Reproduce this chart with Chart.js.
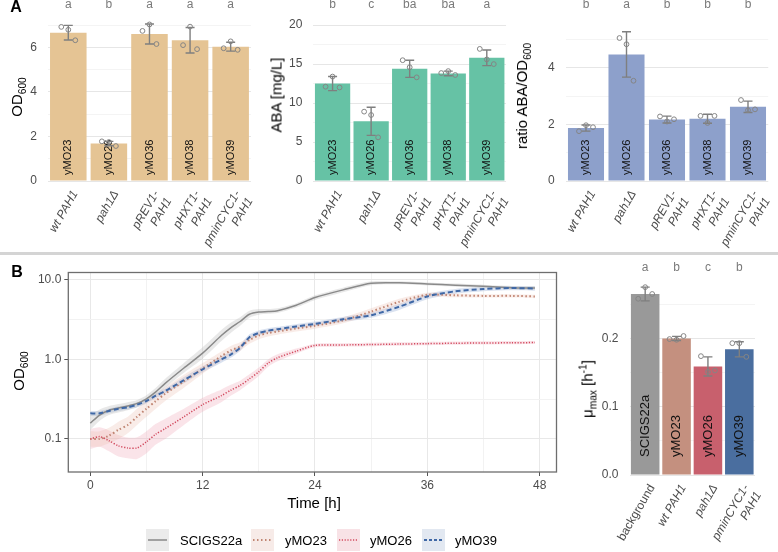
<!DOCTYPE html>
<html>
<head>
<meta charset="utf-8">
<script src="https://cdn.jsdelivr.net/npm/chart.js@4.4.1/dist/chart.umd.min.js"></script>
<style>
  body { margin: 0; background: #fff; font-family: 'Liberation Sans', Arial, sans-serif; }
  #wrap { position: relative; width: 778px; height: 552px; overflow: hidden; }
  canvas { position: absolute; }
  .ttl { position: absolute; white-space: nowrap; transform: translate(-50%, -50%) rotate(-90deg); font-size: 15px; color: #000; }
  .ttl sub, .ttl sup { font-size: 0.68em; }
  .plain { position: absolute; white-space: nowrap; transform: translate(-50%, -50%); font-size: 15px; color: #000; }
  .panel { position: absolute; font-weight: bold; font-size: 16px; transform: translate(-50%, -50%); }
  .legtxt { position: absolute; font-size: 13px; transform: translateY(-50%); white-space: nowrap; }
  .key { position: absolute; }
</style>
</head>
<body>
<div id="wrap">
  <canvas id="odChart" width="255" height="252" style="left:0;top:0"></canvas>
  <canvas id="abaChart" width="256" height="252" style="left:255px;top:0"></canvas>
  <canvas id="ratioChart" width="267" height="252" style="left:511px;top:0"></canvas>
  <canvas id="growthChart" width="565" height="240" style="left:0;top:262px"></canvas>
  <canvas id="muChart" width="208" height="294" style="left:570px;top:258px"></canvas>

  <div style="position:absolute;left:0;top:252px;width:778px;height:3px;background:#d4d4d4"></div>
  <div class="panel" style="left:16px;top:7px">A</div>
  <div class="panel" style="left:17px;top:272px">B</div>

  <div class="ttl" style="left:18px;top:97px">OD<sub>600</sub></div>
  <div class="ttl" style="left:276px;top:95px">ABA [mg/L]</div>
  <div class="ttl" style="left:523px;top:96px">ratio ABA/OD<sub>600</sub></div>
  <div class="ttl" style="left:20px;top:371px">OD<sub>600</sub></div>
  <div class="ttl" style="left:588px;top:389px">μ<sub>max</sub> [h<sup>-1</sup>]</div>
  <div class="plain" style="left:314px;top:502px">Time [h]</div>

  <svg class="key" style="left:146px;top:529px" width="23" height="22"><rect width="23" height="22" fill="#ebebeb"/><line x1="2" y1="11" x2="21" y2="11" stroke="#888" stroke-width="1.5"/></svg>
  <div class="legtxt" style="left:180px;top:540px">SCIGS22a</div>
  <svg class="key" style="left:251px;top:529px" width="23" height="22"><rect width="23" height="22" fill="#f7ebe8"/><line x1="2" y1="11" x2="21" y2="11" stroke="#c08572" stroke-width="2" stroke-dasharray="1.5,2.5"/></svg>
  <div class="legtxt" style="left:285px;top:540px">yMO23</div>
  <svg class="key" style="left:337px;top:529px" width="23" height="22"><rect width="23" height="22" fill="#f8e2e6"/><line x1="2" y1="11" x2="21" y2="11" stroke="#d2495e" stroke-width="1.5" stroke-dasharray="1.2,1.6"/></svg>
  <div class="legtxt" style="left:370px;top:540px">yMO26</div>
  <svg class="key" style="left:422px;top:529px" width="23" height="22"><rect width="23" height="22" fill="#e2e8f1"/><line x1="2" y1="11" x2="21" y2="11" stroke="#3f68a6" stroke-width="1.8" stroke-dasharray="3,2"/></svg>
  <div class="legtxt" style="left:455px;top:540px">yMO39</div>
</div>

<script>
const F = "'Liberation Sans', Arial, sans-serif";

// ---- panel A ----
const strainsA = ['yMO23', 'yMO26', 'yMO36', 'yMO38', 'yMO39'];
const genotypesA = ['wt PAH1', 'pah1Δ', ['pREV1-', 'PAH1'], ['pHXT1-', 'PAH1'], ['pminCYC1-', 'PAH1']];

const odMean = [6.66, 1.68, 6.6, 6.32, 6.03];
const odSd = [0.33, 0.1, 0.45, 0.57, 0.2];
const odPoints = [[6.92, 6.79, 6.32], [1.78, 1.75, 1.57], [6.74, 7.03, 6.15], [6.1, 6.93, 5.92], [5.96, 6.27, 5.89]];
const odLetters = ['a', 'b', 'a', 'a', 'a'];
const odTicks = [0, 2, 4, 6];

const abaMean = [12.5, 7.66, 14.4, 13.8, 15.8];
const abaSd = [0.9, 1.8, 1.1, 0.3, 1.0];
const abaPoints = [[12.1, 13.4, 12.0], [8.9, 8.47, 5.6], [15.5, 14.6, 13.3], [13.85, 14.1, 13.6], [16.95, 15.6, 15.0]];
const abaLetters = ['b', 'c', 'ba', 'ba', 'a'];
const abaTicks = [0, 5, 10, 15, 20];

const ratioMean = [1.87, 4.47, 2.17, 2.2, 2.62];
const ratioSd = [0.11, 0.8, 0.12, 0.16, 0.2];
const ratioPoints = [[1.76, 1.97, 1.9], [5.05, 4.83, 3.54], [2.28, 2.1, 2.18], [2.3, 2.05, 2.3], [2.86, 2.5, 2.53]];
const ratioLetters = ['b', 'a', 'b', 'b', 'b'];
const ratioTicks = [0, 2, 4];

// ---- panel B, growth rate ----
const strainsB = ['SCIGS22a', 'yMO23', 'yMO26', 'yMO39'];
const genotypesB = ['background', 'wt PAH1', 'pah1Δ', ['pminCYC1-', 'PAH1']];
const muMean = [0.265, 0.2, 0.159, 0.184];
const muSd = [0.01, 0.003, 0.014, 0.011];
const muPoints = [[0.258, 0.275, 0.265], [0.199, 0.198, 0.2035], [0.174, 0.151, 0.153], [0.193, 0.193, 0.173]];
const muLetters = ['a', 'b', 'c', 'b'];
const muTicks = [0, 0.1, 0.2];

// ---- panel B, growth curves ----
const hours = [0, 1, 2, 3, 4, 5, 6, 7, 8, 10, 12, 14, 15, 16, 17, 18, 19, 20, 22, 24, 27, 30, 33, 36, 39, 42, 45, 47.5];
const scigsOd = [0.158, 0.2, 0.23, 0.245, 0.26, 0.28, 0.32, 0.39, 0.5, 0.78, 1.2, 2.0, 2.5, 3.0, 3.7, 3.95, 4.0, 4.1, 4.8, 6.0, 7.5, 9.1, 9.2, 8.9, 8.6, 8.3, 8.0, 7.9];
const scigsLo = [0.13, 0.17, 0.2, 0.215, 0.23, 0.25, 0.29, 0.35, 0.44, 0.68, 1.02, 1.7, 2.15, 2.65, 3.35, 3.65, 3.75, 3.85, 4.5, 5.6, 7.0, 8.6, 8.8, 8.5, 8.2, 7.9, 7.6, 7.5];
const scigsHi = [0.2, 0.235, 0.26, 0.275, 0.29, 0.31, 0.355, 0.44, 0.57, 0.9, 1.42, 2.35, 2.9, 3.4, 4.1, 4.3, 4.3, 4.4, 5.1, 6.4, 8.0, 9.6, 9.6, 9.3, 9.0, 8.7, 8.4, 8.3];
const mo23Od = [0.1, 0.1, 0.11, 0.13, 0.15, 0.19, 0.24, 0.3, 0.37, 0.53, 0.77, 1.1, 1.3, 1.45, 1.75, 2.0, 2.15, 2.25, 2.45, 2.65, 3.1, 4.0, 5.3, 6.5, 6.4, 6.3, 6.3, 6.2];
const mo23Lo = [0.08, 0.08, 0.088, 0.1, 0.118, 0.15, 0.19, 0.24, 0.3, 0.44, 0.66, 0.96, 1.14, 1.28, 1.57, 1.8, 1.95, 2.05, 2.24, 2.43, 2.85, 3.65, 4.85, 6.1, 6.05, 6.0, 6.0, 5.9];
const mo23Hi = [0.125, 0.125, 0.138, 0.165, 0.19, 0.24, 0.3, 0.37, 0.45, 0.64, 0.9, 1.26, 1.48, 1.64, 1.95, 2.22, 2.37, 2.47, 2.68, 2.9, 3.38, 4.4, 5.8, 6.9, 6.75, 6.6, 6.6, 6.5];
const mo26Od = [0.1, 0.107, 0.095, 0.082, 0.077, 0.077, 0.092, 0.115, 0.135, 0.19, 0.27, 0.35, 0.41, 0.47, 0.57, 0.7, 0.9, 1.05, 1.27, 1.5, 1.52, 1.54, 1.56, 1.58, 1.6, 1.61, 1.62, 1.63];
const mo26Lo = [0.075, 0.08, 0.07, 0.06, 0.057, 0.056, 0.066, 0.085, 0.1, 0.15, 0.22, 0.29, 0.35, 0.41, 0.5, 0.62, 0.81, 0.95, 1.18, 1.42, 1.45, 1.47, 1.49, 1.51, 1.53, 1.54, 1.55, 1.56];
const mo26Hi = [0.133, 0.14, 0.128, 0.112, 0.104, 0.105, 0.125, 0.155, 0.18, 0.24, 0.33, 0.42, 0.48, 0.54, 0.65, 0.79, 1.0, 1.16, 1.37, 1.58, 1.6, 1.62, 1.64, 1.66, 1.68, 1.69, 1.7, 1.71];
const mo39Od = [0.21, 0.21, 0.225, 0.24, 0.25, 0.27, 0.3, 0.35, 0.4, 0.55, 0.75, 1.0, 1.15, 1.4, 1.9, 2.15, 2.3, 2.4, 2.6, 2.8, 3.2, 3.6, 4.6, 6.2, 7.2, 7.7, 7.9, 7.8];
const mo39Lo = [0.195, 0.195, 0.21, 0.225, 0.233, 0.25, 0.28, 0.325, 0.37, 0.5, 0.69, 0.91, 1.05, 1.28, 1.75, 2.0, 2.15, 2.24, 2.43, 2.62, 2.98, 3.35, 4.2, 5.7, 6.7, 7.2, 7.4, 7.3];
const mo39Hi = [0.225, 0.225, 0.24, 0.257, 0.268, 0.29, 0.32, 0.375, 0.43, 0.6, 0.82, 1.1, 1.26, 1.53, 2.07, 2.32, 2.47, 2.57, 2.78, 3.0, 3.43, 3.88, 5.0, 6.7, 7.7, 8.2, 8.4, 8.3];
const timeTicks = [0, 12, 24, 36, 48];
const odLogTicks = [0.1, 1, 10];

const jitterPx = [-7, 0, 7];

// error bars, replicate points, letters and strain names inside bars
function barExtras(o) {
  return {
    id: 'extras',
    afterDatasetsDraw(chart) {
      const ctx = chart.ctx, ys = chart.scales.y;
      const meta = chart.getDatasetMeta(0);
      meta.data.forEach((bar, i) => {
        const x = bar.x;
        ctx.save();
        ctx.translate(x, ys.getPixelForValue(0) - o.labelLift);
        ctx.rotate(-Math.PI / 2);
        ctx.fillStyle = '#111';
        ctx.font = o.labelSize + 'px ' + F;
        ctx.textAlign = 'left';
        ctx.textBaseline = 'middle';
        ctx.fillText(o.strains[i], 0, 0);
        ctx.restore();

        const yH = ys.getPixelForValue(o.mean[i] + o.sd[i]);
        const yL = ys.getPixelForValue(o.mean[i] - o.sd[i]);
        ctx.save();
        ctx.strokeStyle = '#7f7f7f';
        ctx.lineWidth = 1.4;
        ctx.beginPath();
        ctx.moveTo(x, yH); ctx.lineTo(x, yL);
        ctx.moveTo(x - 4.5, yH); ctx.lineTo(x + 4.5, yH);
        ctx.moveTo(x - 4.5, yL); ctx.lineTo(x + 4.5, yL);
        ctx.stroke();
        ctx.lineWidth = 1;
        ctx.strokeStyle = '#858585';
        o.points[i].forEach((v, j) => {
          ctx.beginPath();
          ctx.arc(x + jitterPx[j], ys.getPixelForValue(v), 2.4, 0, Math.PI * 2);
          ctx.stroke();
        });
        ctx.fillStyle = '#7a7a7a';
        ctx.font = '12px ' + F;
        ctx.textAlign = 'center';
        ctx.textBaseline = 'middle';
        ctx.fillText(o.letters[i], x, o.letterY);
        ctx.restore();
      });
    }
  };
}

function barChart(id, o) {
  const step = o.ticks[1] - o.ticks[0];
  const minor = o.ticks.map(v => v + step / 2).filter(v => v <= o.max);
  const grid = o.ticks.concat(minor).sort((a, b) => a - b);
  return new Chart(document.getElementById(id), {
    type: 'bar',
    data: {
      labels: o.labels,
      datasets: [{
        data: o.mean,
        backgroundColor: o.colors,
        borderWidth: 0,
        barPercentage: o.barPct,
        categoryPercentage: 1
      }]
    },
    options: {
      responsive: false,
      animation: false,
      events: [],
      layout: { padding: { left: 0, right: o.padRight, top: o.padTop, bottom: 0 } },
      plugins: { legend: { display: false }, tooltip: { enabled: false } },
      scales: {
        x: {
          grid: { display: false },
          border: { display: false },
          ticks: {
            color: '#4d4d4d',
            font: ctx => ({ size: 12, family: F, style: (o.plainFirst && ctx.index === 0) ? 'normal' : 'italic' }),
            minRotation: 60,
            maxRotation: 60,
            autoSkip: false,
            labelOffset: 7,
            padding: -1
          },
          afterFit: s => { s.height = o.xH; }
        },
        y: {
          min: 0,
          max: o.max,
          border: { display: false },
          grid: {
            drawTicks: false,
            color: c => o.ticks.includes(c.tick.value) ? '#e6e6e6' : '#f1f1f1',
            lineWidth: c => o.ticks.includes(c.tick.value) ? 1 : 0.8
          },
          ticks: {
            color: '#4d4d4d',
            font: { size: 12, family: F },
            padding: 11,
            callback: v => o.ticks.includes(v) ? (o.digits ? v.toFixed(o.digits) : String(v)) : ''
          },
          afterBuildTicks: s => { s.ticks = grid.map(v => ({ value: v })); },
          afterFit: s => { s.width = o.yW; }
        }
      }
    },
    plugins: [barExtras(o)]
  });
}

barChart('odChart', {
  labels: genotypesA, strains: strainsA, mean: odMean, sd: odSd, points: odPoints, letters: odLetters,
  ticks: odTicks, colors: '#E5C494', max: 7.31, barPct: 0.9, yW: 48, padRight: 4, padTop: 10, xH: 71,
  letterY: 5, labelLift: 6, labelSize: 11
});
barChart('abaChart', {
  labels: genotypesA, strains: strainsA, mean: abaMean, sd: abaSd, points: abaPoints, letters: abaLetters,
  ticks: abaTicks, colors: '#66C2A5', max: 20.89, barPct: 0.915, yW: 58.3, padRight: 2.7, padTop: 10, xH: 71,
  letterY: 5, labelLift: 6, labelSize: 11
});
barChart('ratioChart', {
  labels: genotypesA, strains: strainsA, mean: ratioMean, sd: ratioSd, points: ratioPoints, letters: ratioLetters,
  ticks: ratioTicks, colors: '#8DA0CB', max: 5.75, barPct: 0.89, yW: 54.75, padRight: 9.75, padTop: 10, xH: 71,
  letterY: 5, labelLift: 6, labelSize: 11
});
barChart('muChart', {
  labels: genotypesB, strains: strainsB, mean: muMean, sd: muSd, points: muPoints, letters: muLetters,
  ticks: muTicks, digits: 1, colors: ['#999999', '#C4907F', '#C8606D', '#4A6E9F'], max: 0.2855, barPct: 0.91,
  yW: 59.5, padRight: 23, padTop: 22, xH: 77, letterY: 10, labelLift: 18, labelSize: 13, plainFirst: true
});

// ---- growth curves ----
const xy = arr => hours.map((h, i) => ({ x: h, y: arr[i] }));
const band = (hi, lo, color) => [
  { data: xy(hi), fill: '+1', backgroundColor: color, borderWidth: 0, pointRadius: 0, tension: 0.25, order: 20 },
  { data: xy(lo), fill: false, borderWidth: 0, pointRadius: 0, tension: 0.25, order: 20 }
];
const curve = (arr, color, width, dash, order) => ({
  data: xy(arr), borderColor: color, borderWidth: width, borderDash: dash, borderCapStyle: 'butt',
  pointRadius: 0, fill: false, tension: 0.25, order: order
});

const frame = {
  id: 'frame',
  afterDraw(chart) {
    const a = chart.chartArea, ctx = chart.ctx;
    ctx.save();
    ctx.strokeStyle = '#6e6e6e';
    ctx.lineWidth = 1.3;
    ctx.strokeRect(a.left, a.top, a.right - a.left, a.bottom - a.top);
    ctx.restore();
  }
};

const logGrid = [0.1, 0.3162, 1, 3.162, 10];
const timeGrid = [0, 6, 12, 18, 24, 30, 36, 42, 48];

new Chart(document.getElementById('growthChart'), {
  type: 'line',
  data: {
    datasets: [
      ...band(scigsHi, scigsLo, 'rgba(190,190,190,0.35)'),
      ...band(mo23Hi, mo23Lo, 'rgba(235,185,172,0.28)'),
      ...band(mo26Hi, mo26Lo, 'rgba(240,165,182,0.3)'),
      ...band(mo39Hi, mo39Lo, 'rgba(150,172,212,0.35)'),
      curve(scigsOd, '#8a8a8a', 1.5, [], 4),
      curve(mo23Od, '#c08572', 2, [1.5, 2.5], 3),
      curve(mo26Od, '#d2495e', 1.5, [1.2, 1.6], 2),
      curve(mo39Od, '#3f68a6', 2, [5, 3], 1)
    ]
  },
  options: {
    responsive: false,
    animation: false,
    events: [],
    layout: { padding: { left: 0, right: 8.5, top: 10.5, bottom: 0 } },
    plugins: { legend: { display: false }, tooltip: { enabled: false } },
    scales: {
      x: {
        type: 'linear',
        min: -2.35,
        max: 49.8,
        border: { display: false },
        grid: {
          color: c => timeTicks.includes(c.tick.value) ? '#e8e8e8' : '#f2f2f2',
          tickColor: c => timeTicks.includes(c.tick.value) ? '#555' : 'rgba(0,0,0,0)',
          tickLength: 4
        },
        ticks: {
          color: '#4d4d4d',
          font: { size: 12, family: F },
          padding: 2,
          callback: v => timeTicks.includes(v) ? String(v) : ''
        },
        afterBuildTicks: s => { s.ticks = timeGrid.map(v => ({ value: v })); },
        afterFit: s => { s.height = 30; }
      },
      y: {
        type: 'logarithmic',
        min: 0.0384,
        max: 12.4,
        border: { display: false },
        grid: {
          color: c => odLogTicks.includes(c.tick.value) ? '#e8e8e8' : '#f2f2f2',
          tickColor: c => odLogTicks.includes(c.tick.value) ? '#555' : 'rgba(0,0,0,0)',
          tickLength: 4
        },
        ticks: {
          color: '#4d4d4d',
          font: { size: 12, family: F },
          padding: 3,
          callback: v => odLogTicks.includes(v) ? v.toFixed(1) : ''
        },
        afterBuildTicks: s => { s.ticks = logGrid.map(v => ({ value: v })); },
        afterFit: s => { s.width = 68.3; }
      }
    }
  },
  plugins: [frame]
});
</script>
</body>
</html>
